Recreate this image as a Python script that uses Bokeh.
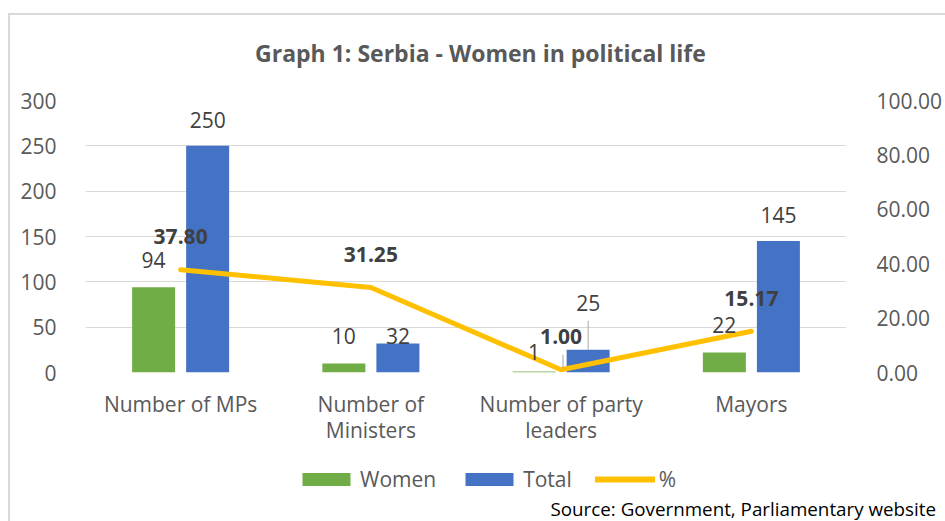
from bokeh.plotting import figure
from bokeh.layouts import column
from bokeh.models import (Range1d, LinearAxis, FixedTicker, Legend, LegendItem,
                          ColumnDataSource, NumeralTickFormatter, Title)
from bokeh.core.properties import value
from bokeh.embed import file_html
from bokeh.resources import INLINE

# ---- data ----
categories = ["Number of MPs", "Number of\nMinisters", "Number of party\nleaders", "Mayors"]
women = [94, 10, 1, 22]
total = [250, 32, 25, 145]
pct = [37.80, 31.25, 1.00, 15.17]
pct_labels = ["37.80", "31.25", "1.00", "15.17"]
left_ticks = [0, 50, 100, 150, 200, 250, 300]
right_ticks = [0, 20, 40, 60, 80, 100]
title_text = "Graph 1: Serbia - Women in political life"
source_text = "Source: Government, Parliamentary website"

# ---- styles ----
FONT = "Open Sans"
FS = "21px"
GREEN = "#70AD47"
BLUE = "#4472C4"
GOLD = "#FFC000"
GRAY = "#595959"
DARK = "#404040"
women_dy = [-27, -27, -20, -28]   # label offsets in px (style)
total_dy = [-26, -7, -47, -26]
W = 945
BL, BR = 85, 97          # frame borders shared by all stacked figures
FX0, FX1 = BL, W - BR    # frame extent in page pixels

xs = [i + 0.5 for i in range(len(categories))]
bar_w = 0.226
shift = 0.142


def strip(h):
    f = figure(width=W, height=h, x_range=Range1d(FX0, FX1), y_range=Range1d(0, h),
               x_axis_type=None, y_axis_type=None, output_backend="svg",
               toolbar_location=None, min_border_left=BL, min_border_right=BR,
               min_border_top=0, min_border_bottom=0)
    f.outline_line_color = None
    f.background_fill_color = None
    f.border_fill_color = None
    return f


# ---- title strip ----
H0 = 80
p0 = strip(H0)
p0.text(x=[481], y=[H0 - 52], text=[title_text], text_align="center",
        text_baseline="middle", text_font=value(FONT), text_font_size="23px",
        text_font_style="bold", text_color=GRAY)

# ---- main chart ----
H1 = 382
p = figure(width=W, height=H1, x_range=Range1d(0, 4), y_range=Range1d(0, 300),
           output_backend="svg", toolbar_location=None,
           min_border_left=BL, min_border_right=BR, min_border_top=20,
           min_border_bottom=90)
p.outline_line_color = None
p.background_fill_color = None
p.border_fill_color = None
p.extra_y_ranges = {"pct": Range1d(0, 100)}

src = ColumnDataSource(dict(
    xw=[x - shift for x in xs], xt=[x + shift for x in xs], x=xs,
    women=women, total=total, pct=pct,
    wl=[str(v) for v in women], tl=[str(v) for v in total], pl=pct_labels,
    wdy=women_dy, tdy=total_dy,
))

p.vbar(x="xw", top="women", width=bar_w, source=src, fill_color=GREEN, line_color=None)
p.vbar(x="xt", top="total", width=bar_w, source=src, fill_color=BLUE, line_color=None)
p.line(x="x", y="pct", source=src, line_color=GOLD, line_width=5,
       line_cap="round", line_join="round", y_range_name="pct")

# leader lines (anchored on data positions)
p.segment(x0=[xs[2] + shift], y0=[total[2]], x1=[xs[2] + shift], y1=[total[2] + 32],
          line_color="#A6A6A6", line_width=1)
p.segment(x0=[xs[2] + 0.01], y0=[pct[2] + 0.5], x1=[xs[2] + 0.01], y1=[pct[2] + 5.5],
          line_color="#A6A6A6", line_width=1, y_range_name="pct")

p.text(x="xw", y="women", text="wl", source=src, y_offset="wdy",
       text_align="center", text_baseline="middle", text_font=value(FONT),
       text_font_size=FS, text_color=DARK)
p.text(x="xt", y="total", text="tl", source=src, y_offset="tdy",
       text_align="center", text_baseline="middle", text_font=value(FONT),
       text_font_size=FS, text_color=DARK)
p.text(x="x", y="pct", text="pl", source=src, y_offset=-33, y_range_name="pct",
       text_align="center", text_baseline="middle", text_font=value(FONT),
       text_font_size=FS, text_font_style="bold", text_color=DARK)

p.xaxis.ticker = FixedTicker(ticks=xs)
p.xaxis.major_label_overrides = {x: c for x, c in zip(xs, categories)}
p.xaxis.axis_line_color = None
p.xaxis.major_tick_line_color = None
p.xaxis.minor_tick_line_color = None
p.xaxis.major_label_standoff = 11
p.xaxis.major_label_text_font = FONT
p.xaxis.major_label_text_font_size = FS
p.xaxis.major_label_text_color = GRAY
p.xaxis.major_label_text_line_height = 0.95

p.yaxis.ticker = FixedTicker(ticks=left_ticks)
p.yaxis.axis_line_color = None
p.yaxis.major_tick_line_color = None
p.yaxis.minor_tick_line_color = None
p.yaxis.major_label_standoff = 23
p.yaxis.major_label_text_font = FONT
p.yaxis.major_label_text_font_size = FS
p.yaxis.major_label_text_color = GRAY

ra = LinearAxis(y_range_name="pct", ticker=FixedTicker(ticks=right_ticks),
                formatter=NumeralTickFormatter(format="0.00"))
ra.axis_line_color = None
ra.major_tick_line_color = None
ra.minor_tick_line_color = None
ra.major_label_standoff = 24
ra.major_label_text_font = FONT
ra.major_label_text_font_size = FS
ra.major_label_text_color = GRAY
p.add_layout(ra, "right")

p.xgrid.visible = False
p.ygrid.ticker = FixedTicker(ticks=left_ticks)
p.ygrid.grid_line_color = "#D9D9D9"
p.ygrid.grid_line_width = 1

# ---- legend + source strip ----
H2 = 521 - H0 - H1
p2 = strip(H2)
# legend proxies (zero-size, outside the visible range)
lw = p2.vbar(x=[0], top=[0], width=1, fill_color=GREEN, line_color=None)
lt = p2.vbar(x=[0], top=[0], width=1, fill_color=BLUE, line_color=None)
ll = p2.line(x=[0, 0], y=[0, 0], line_color=GOLD, line_width=6, line_cap="round")
legend = Legend(items=[LegendItem(label="Women", renderers=[lw]),
                       LegendItem(label="Total", renderers=[lt]),
                       LegendItem(label="%", renderers=[ll])],
                orientation="horizontal", location=(296 - FX0, 0))
legend.glyph_width = 60
legend.glyph_height = 16
legend.label_standoff = 4
legend.spacing = 23
legend.padding = 0
legend.margin = 0
legend.border_line_color = None
legend.background_fill_alpha = 0
legend.label_text_font = FONT
legend.label_text_font_size = FS
legend.label_text_color = GRAY
p2.add_layout(legend, "center")
p2.add_layout(Title(text=source_text, align="left", offset=550 - FX0, standoff=0,
                    text_font=FONT, text_font_size="18.8px", text_font_style="normal",
                    text_color="black"), "below")

layout = column(p0, p, p2, spacing=0, styles={
    "background-color": "white",
    "background-image": "linear-gradient(#D9D9D9, #D9D9D9), linear-gradient(#D9D9D9, #D9D9D9)",
    "background-size": "2px 510px, 940px 2px",
    "background-position": "8px 13px, 8px 13px",
    "background-repeat": "no-repeat",
})

open("out.html", "w").write(file_html(layout, INLINE))
